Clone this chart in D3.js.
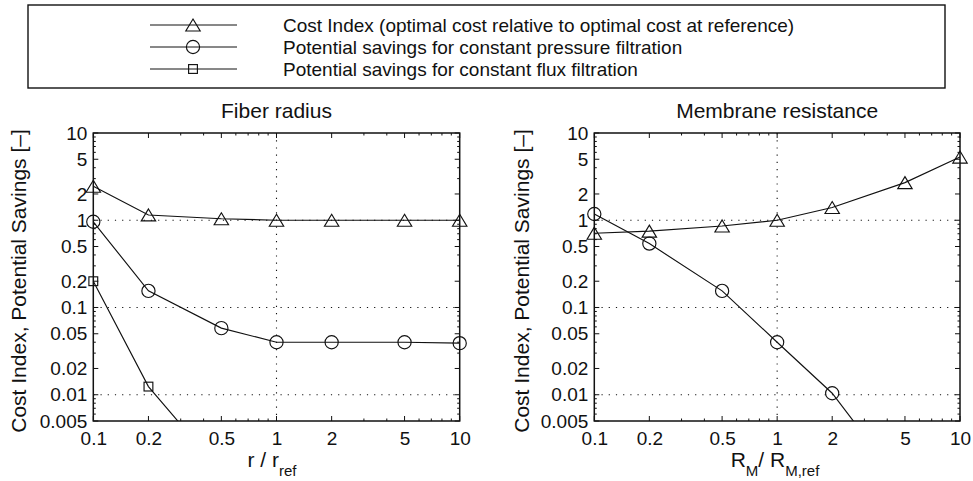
<!DOCTYPE html>
<html>
<head>
<meta charset="utf-8">
<script src="https://cdn.jsdelivr.net/npm/d3@7/dist/d3.min.js"></script>
<style>
  html, body { margin: 0; padding: 0; background: #fff; }
  svg { display: block; font-family: "Liberation Sans", Arial, Helvetica, sans-serif; }
</style>
</head>
<body>
<svg id="chart" width="973" height="481"></svg>
<script>
// Relative parameter values (x) and tick labels
const ratios = [0.1, 0.2, 0.5, 1, 2, 5, 10];
const xTickValues = [0.1, 0.2, 0.5, 1, 2, 5, 10];
const yTickValues = [0.005, 0.01, 0.02, 0.05, 0.1, 0.2, 0.5, 1, 2, 5, 10];

// Fiber radius study
const fiberCost = [2.45, 1.15, 1.04, 1.0, 1.0, 1.0, 1.0];
const fiberPressure = [0.96, 0.155, 0.058, 0.040, 0.040, 0.040, 0.039];
const fiberFlux = [0.2, 0.0124, 0.0013];

// Membrane resistance study
const membraneCost = [0.71, 0.75, 0.86, 1.0, 1.4, 2.7, 5.3];
const membranePressure = [1.18, 0.54, 0.155, 0.040, 0.0104, 0.00084];

const legendLabels = [
  "Cost Index (optimal cost relative to optimal cost at reference)",
  "Potential savings for constant pressure filtration",
  "Potential savings for constant flux filtration"
];
const legendMarkers = ["triangle", "circle", "square"];

const svg = d3.select("#chart");
const INK = "#111";

// Marker shapes (unfilled, line shows through)
function drawMarker(g, type, cx, cy) {
  if (type === "circle") {
    g.append("circle").attr("cx", cx).attr("cy", cy).attr("r", 6.6)
      .attr("fill", "none").attr("stroke", INK).attr("stroke-width", 1.15);
  } else if (type === "triangle") {
    const w = 7.2, h = 6;
    g.append("path")
      .attr("d", `M${cx},${cy - h}L${cx + w},${cy + h}L${cx - w},${cy + h}Z`)
      .attr("fill", "none").attr("stroke", INK).attr("stroke-width", 1.15);
  } else {
    const s = 4.4;
    g.append("rect").attr("x", cx - s).attr("y", cy - s).attr("width", 2 * s).attr("height", 2 * s)
      .attr("fill", "none").attr("stroke", INK).attr("stroke-width", 1.15);
  }
}

// Legend
const legend = { x0: 28, x1: 945, y0: 5, y1: 88, lineX0: 150, lineX1: 237, markX: 193, textX: 283, rows: [25, 47, 69] };
svg.append("rect")
  .attr("x", legend.x0).attr("y", legend.y0)
  .attr("width", legend.x1 - legend.x0).attr("height", legend.y1 - legend.y0)
  .attr("fill", "#fff").attr("stroke", INK).attr("stroke-width", 1.4);
legendLabels.forEach((label, i) => {
  const g = svg.append("g");
  const y = legend.rows[i];
  g.append("line").attr("x1", legend.lineX0).attr("x2", legend.lineX1)
    .attr("y1", y).attr("y2", y).attr("stroke", INK).attr("stroke-width", 1);
  drawMarker(g, legendMarkers[i], legend.markX, y);
  g.append("text").attr("x", legend.textX).attr("y", y).attr("dy", "0.36em")
    .attr("font-size", 19).attr("fill", INK).text(label);
});

// One log-log panel
function panel(opts) {
  const { left, right, top, bottom } = opts;
  const x = d3.scaleLog().domain([0.1, 10]).range([left, right]);
  const y = d3.scaleLog().domain([0.005, 10]).range([bottom, top]);
  const g = svg.append("g");
  const clipId = "clip-" + opts.id;

  g.append("clipPath").attr("id", clipId)
    .append("rect").attr("x", left - 10).attr("y", top).attr("width", right - left + 20).attr("height", bottom - top);

  // Dotted grid at decades
  const gridY = [0.01, 0.1, 1];
  const gridX = [1];
  g.selectAll(".gy").data(gridY).join("line")
    .attr("x1", left).attr("x2", right).attr("y1", d => y(d)).attr("y2", d => y(d))
    .attr("stroke", INK).attr("stroke-width", 1.1).attr("stroke-dasharray", "1.2,6");
  g.selectAll(".gx").data(gridX).join("line")
    .attr("y1", top).attr("y2", bottom).attr("x1", d => x(d)).attr("x2", d => x(d))
    .attr("stroke", INK).attr("stroke-width", 1.1).attr("stroke-dasharray", "1.2,6");

  // Minor and major ticks on all four sides, pointing inward
  const minorX = [], minorY = [];
  for (let e = -3; e <= 1; e++) for (let k = 1; k <= 9; k++) {
    const v = k * Math.pow(10, e);
    if (v >= 0.1 - 1e-9 && v <= 10 + 1e-9) minorX.push(v);
    if (v >= 0.005 - 1e-9 && v <= 10 + 1e-9) minorY.push(v);
  }
  const isMajor = (arr, v) => arr.some(t => Math.abs(t - v) / t < 1e-6);
  const tk = g.append("g").attr("stroke", INK).attr("stroke-width", 1);
  minorX.forEach(v => {
    const len = isMajor(xTickValues, v) ? 5 : 2.5;
    tk.append("line").attr("x1", x(v)).attr("x2", x(v)).attr("y1", bottom).attr("y2", bottom - len);
    tk.append("line").attr("x1", x(v)).attr("x2", x(v)).attr("y1", top).attr("y2", top + len);
  });
  minorY.forEach(v => {
    const len = isMajor(yTickValues, v) ? 5 : 2.5;
    tk.append("line").attr("y1", y(v)).attr("y2", y(v)).attr("x1", left).attr("x2", left + len);
    tk.append("line").attr("y1", y(v)).attr("y2", y(v)).attr("x1", right).attr("x2", right - len);
  });

  // Tick labels via d3 axes
  const fmt = d => String(d);
  const ax = g.append("g").attr("transform", `translate(0,${bottom})`)
    .call(d3.axisBottom(x).tickValues(xTickValues).tickFormat(fmt).tickSize(0).tickPadding(17));
  const ay = g.append("g").attr("transform", `translate(${left},0)`)
    .call(d3.axisLeft(y).tickValues(yTickValues).tickFormat(fmt).tickSize(0).tickPadding(6));
  [ax, ay].forEach(a => {
    a.select(".domain").remove();
    a.selectAll("text").attr("font-size", 19).attr("fill", INK)
      .attr("font-family", "'Liberation Sans', Arial, Helvetica, sans-serif");
  });
  ax.selectAll("text").attr("dy", "0.36em");

  // Axes box
  g.append("rect").attr("x", left).attr("y", top).attr("width", right - left).attr("height", bottom - top)
    .attr("fill", "none").attr("stroke", INK).attr("stroke-width", 1.5);

  // Series
  const line = d3.line().x(d => x(d[0])).y(d => y(d[1]));
  opts.series.forEach(s => {
    const pts = s.values.map((v, i) => [ratios[i], v]);
    g.append("path").attr("d", line(pts)).attr("clip-path", `url(#${clipId})`)
      .attr("fill", "none").attr("stroke", INK).attr("stroke-width", 1.15);
    const mg = g.append("g");
    pts.filter(p => p[1] >= 0.005 && p[1] <= 10).forEach(p => drawMarker(mg, s.marker, x(p[0]), y(p[1])));
  });

  // Title
  g.append("text").attr("x", (left + right) / 2).attr("y", top - 15)
    .attr("text-anchor", "middle").attr("font-size", 21).attr("fill", INK).text(opts.title);

  // Y label
  g.append("text")
    .attr("transform", `translate(${opts.yLabelX},${(top + bottom) / 2 + 4}) rotate(-90)`)
    .attr("text-anchor", "middle").attr("font-size", 21).attr("fill", INK)
    .text("Cost Index, Potential Savings [\u2013]");

  // X label with subscripts
  const xl = g.append("text").attr("x", opts.xLabelX).attr("y", 467)
    .attr("text-anchor", "middle").attr("font-size", 21).attr("fill", INK);
  opts.xLabel.forEach(part => {
    const t = xl.append("tspan").text(part.text);
    if (part.sub) t.attr("font-size", 15).attr("dy", 9);
    else if (part.after) t.attr("dy", -9);
  });
}

panel({
  id: "fiber", left: 93.3, right: 459.7, top: 133, bottom: 421,
  title: "Fiber radius", yLabelX: 26, xLabelX: 272,
  xLabel: [{ text: "r / r" }, { text: "ref", sub: true }],
  series: [
    { values: fiberCost, marker: "triangle" },
    { values: fiberPressure, marker: "circle" },
    { values: fiberFlux, marker: "square" }
  ]
});

panel({
  id: "membrane", left: 594.3, right: 960, top: 133, bottom: 421,
  title: "Membrane resistance", yLabelX: 529, xLabelX: 775,
  xLabel: [{ text: "R" }, { text: "M", sub: true }, { text: "/ R", after: true }, { text: "M,ref", sub: true }],
  series: [
    { values: membraneCost, marker: "triangle" },
    { values: membranePressure, marker: "circle" }
  ]
});
</script>
</body>
</html>
